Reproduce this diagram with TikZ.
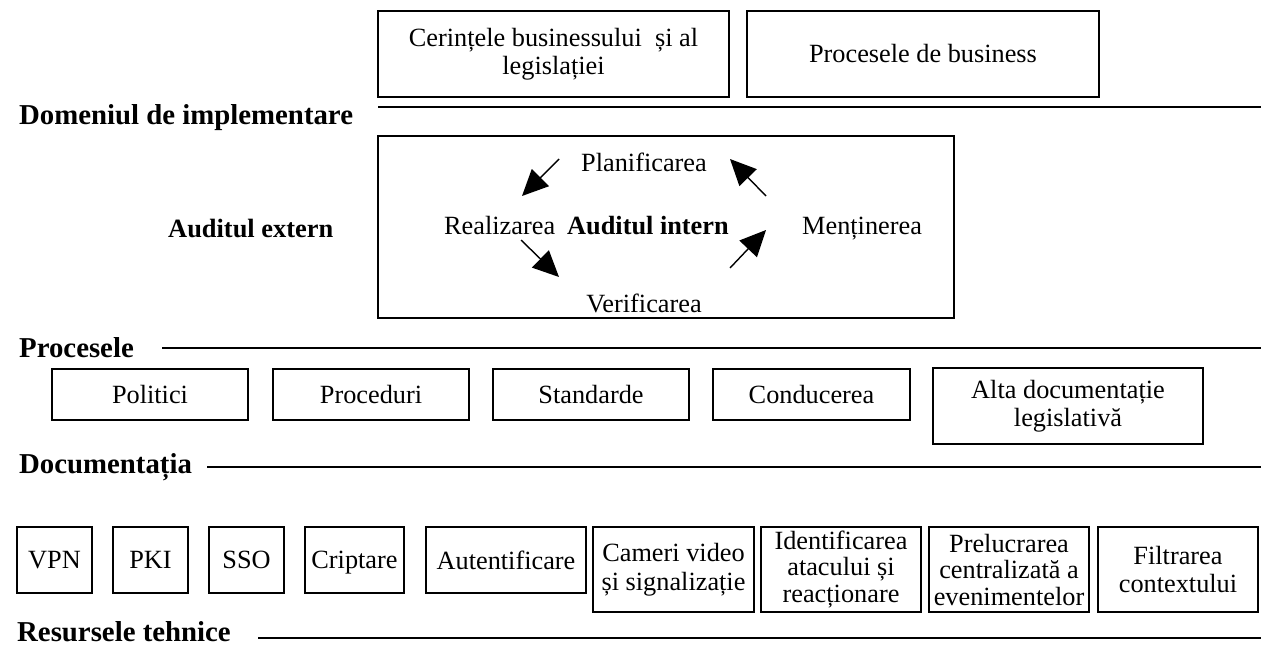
\documentclass[tikz,border=0pt]{standalone}
\usepackage{fontspec}
\setmainfont{Liberation Serif}
\usetikzlibrary{arrows.meta}
\begin{document}
\begin{tikzpicture}[x=1pt,y=-1pt,
  box/.style={draw, line width=1.3pt, inner sep=0pt, align=center,
    font=\fontsize{26.3}{28.5}\selectfont},
  tbox/.style={box, font=\fontsize{26.3}{26.5}\selectfont},
  lab/.style={anchor=base west, inner sep=0pt, font=\fontsize{28.8}{30}\selectfont\bfseries},
  txt/.style={anchor=base, inner sep=0pt, font=\fontsize{26.3}{28}\selectfont},
  btxt/.style={anchor=base, inner sep=0pt, font=\fontsize{26.3}{28}\selectfont\bfseries},
  sepline/.style={line width=1.3pt},
  cyc/.style={line width=1.4pt, -{Triangle[length=26pt,width=24pt]}}]
\useasboundingbox (0,0) rectangle (1261,646);

% top boxes
\node[box, minimum width=351pt, minimum height=86pt] (req) at (553.5,54) {Cerințele businessului \ și al\\legislației};
\node[box, minimum width=352pt, minimum height=86pt] (bp) at (923,54) {Procesele de business};

% implementation domain
\coordinate (l1a) at (378,107);
\coordinate (l1b) at (1261,107);
\draw[line width=2pt] (l1a) -- (l1b);
\node[lab] (dom) at (19,124) {Domeniul de implementare};

\node[box, minimum width=576pt, minimum height=182pt] (mid) at (666,227) {};
\node[lab, font=\fontsize{26.4}{28}\selectfont\bfseries] (ext) at (168,237) {Auditul extern};
\node[txt] (plan) at (644,171) {Planificarea};
\node[txt, anchor=base west] (real) at (444,234) {Realizarea};
\node[btxt, anchor=base west] (int) at (567,234) {Auditul intern};
\node[txt, anchor=base west] (ment) at (802,234) {Menținerea};
\node[txt] (verif) at (644,312) {Verificarea};

\coordinate (a1s) at (559,159); \coordinate (a1e) at (522,196);
\coordinate (a2s) at (766,196); \coordinate (a2e) at (730,159);
\coordinate (a3s) at (521,240); \coordinate (a3e) at (559,277);
\coordinate (a4s) at (730,268); \coordinate (a4e) at (766,230);
\draw[cyc] (a1s) -- (a1e);
\draw[cyc] (a2s) -- (a2e);
\draw[cyc] (a3s) -- (a3e);
\draw[cyc] (a4s) -- (a4e);

% processes
\node[lab] (proc) at (19,357) {Procesele};
\coordinate (l2a) at (162,348);
\coordinate (l2b) at (1261,348);
\draw[sepline] (l2a) -- (l2b);

\node[box, minimum width=196pt, minimum height=51pt] (pol) at (150,394.5) {Politici};
\node[box, minimum width=196pt, minimum height=51pt] (pro) at (371,394.5) {Proceduri};
\node[box, minimum width=196pt, minimum height=51pt] (std) at (591,394.5) {Standarde};
\node[box, minimum width=197pt, minimum height=51pt] (cond) at (811.5,394.5) {Conducerea};
\node[box, minimum width=270pt, minimum height=76pt] (alta) at (1068,406) {Alta documentație\\legislativă};

% documentation
\node[lab] (doc) at (19,473) {Documentația};
\coordinate (l3a) at (207,467);
\coordinate (l3b) at (1261,467);
\draw[sepline] (l3a) -- (l3b);

% technical resources
\node[box, minimum width=75pt, minimum height=66pt] (vpn) at (54.5,560) {VPN};
\node[box, minimum width=75pt, minimum height=66pt] (pki) at (150.5,560) {PKI};
\node[box, minimum width=75pt, minimum height=66pt] (sso) at (246.5,560) {SSO};
\node[box, minimum width=99pt, minimum height=66pt, text depth=0pt] (cri) at (354.5,560) {Criptare};
\node[box, minimum width=160pt, minimum height=66pt] (aut) at (506,560) {Autentificare};
\node[box, minimum width=161pt, minimum height=85pt] (cam) at (673.5,569.5) {Cameri video\\și signalizație};
\node[tbox, minimum width=160pt, minimum height=85pt] (ide) at (841,569.5) {Identificarea\\atacului și\\reacționare};
\node[tbox, minimum width=160pt, minimum height=85pt] (pre) at (1009,569.5) {Prelucrarea\\centralizată a\\evenimentelor};
\node[box, minimum width=160pt, minimum height=85pt] (fil) at (1178,569.5) {Filtrarea\\contextului};

\node[lab] (res) at (17,641) {Resursele tehnice};
\coordinate (l4a) at (258,638);
\coordinate (l4b) at (1261,638);
\draw[sepline] (l4a) -- (l4b);
\end{tikzpicture}
\end{document}
